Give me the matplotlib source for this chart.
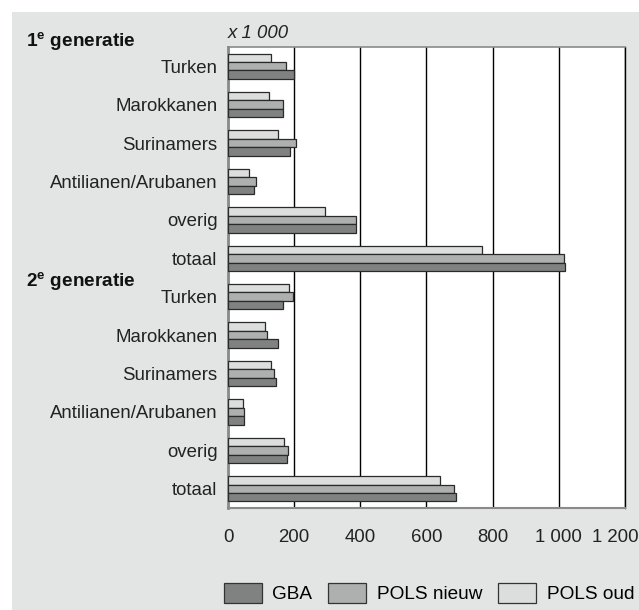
import numpy as np
import matplotlib.pyplot as plt
import matplotlib.transforms as mtransforms
from matplotlib.patches import Rectangle

plt.rcParams['font.family'] = ['Liberation Sans', 'DejaVu Sans']
plt.rcParams['mathtext.fontset'] = 'custom'
plt.rcParams['mathtext.rm'] = 'Liberation Sans'
plt.rcParams['mathtext.bf'] = 'Liberation Sans:bold'

# Gegevens (x 1 000)
groepen = ['Turken', 'Marokkanen', 'Surinamers', 'Antilianen/Arubanen', 'overig', 'totaal',
           'Turken', 'Marokkanen', 'Surinamers', 'Antilianen/Arubanen', 'overig', 'totaal']
gba = [199, 167, 188, 80, 388, 1020, 165, 151, 144, 47, 179, 689]
pols_nieuw = [175, 167, 205, 86, 388, 1016, 196, 119, 139, 47, 182, 684]
pols_oud = [130, 125, 152, 64, 292, 767, 183, 112, 131, 44, 168, 640]
xticks = [0, 200, 400, 600, 800, 1000, 1200]
xlabels = ['0', '200', '400', '600', '800', '1 000', '1 200']

fs = 13.45

fig = plt.figure(figsize=(6.39, 6.10), dpi=100)
fig.patches.append(Rectangle((12 / 639, 0), 1, 1 - 12 / 610, transform=fig.transFigure,
                             facecolor='#e3e4e4', edgecolor='none', zorder=-10))

ax = fig.add_axes([228 / 639, 1 - 508 / 610, (625 - 228) / 639, (508 - 47) / 610])
ax.set_facecolor('white')

y = np.arange(len(groepen))
h = 0.22
kw = dict(height=h, edgecolor='#2a2a2a', linewidth=0.9, zorder=3)
ax.barh(y - h, pols_oud, color='#dcdddd', label='POLS oud', **kw)
ax.barh(y, pols_nieuw, color='#aeafaf', label='POLS nieuw', **kw)
ax.barh(y + h, gba, color='#808181', label='GBA', **kw)

ax.set_ylim(len(groepen) - 0.5, -0.5)
ax.set_xlim(0, 1200)
ax.set_yticks(y)
ax.set_yticklabels(groepen, fontsize=fs, color='#222222')
ax.set_xticks(xticks)
ax.set_xticklabels(xlabels, fontsize=fs, color='#222222')
ax.tick_params(axis='y', length=0, pad=7.5)
ax.tick_params(axis='x', length=0, pad=15)
lbl = ax.get_xticklabels()[-1]
lbl.set_transform(lbl.get_transform() + mtransforms.ScaledTranslation(-0.1, 0, fig.dpi_scale_trans))

ax.set_axisbelow(True)
ax.grid(axis='x', color='black', linewidth=1.0)
ax.grid(axis='y', visible=False)
for side in ['left', 'bottom', 'top']:
    ax.spines[side].set_color('#8a8a8a')
ax.spines['left'].set_linewidth(2)
ax.spines['bottom'].set_linewidth(1.5)
ax.spines['top'].set_linewidth(1.2)
ax.spines['right'].set_color('black')
ax.spines['right'].set_linewidth(1.0)

ax.text(0, 1.030, 'x 1 000', transform=ax.transAxes, fontsize=fs, style='italic',
        color='#222222', va='center', ha='left')

trans = mtransforms.blended_transform_factory(fig.transFigure, ax.transData)
ax.text(26 / 639, -0.63, r'1$^{\mathbf{e}}$ generatie', transform=trans, fontsize=13.7,
        fontweight='bold', va='center', ha='left', color='#111111')
ax.text(26 / 639, 5.6, r'2$^{\mathbf{e}}$ generatie', transform=trans, fontsize=13.7,
        fontweight='bold', va='center', ha='left', color='#111111')

handles, labels = ax.get_legend_handles_labels()
handles = handles[::-1]
labels = labels[::-1]
leg = fig.legend(handles, labels, loc='center', bbox_to_anchor=(429 / 639, 1 - 593 / 610),
                 ncol=3, frameon=False, fontsize=13.7, handlelength=2.0, handleheight=1.25,
                 handletextpad=0.55, columnspacing=0.85)
for p in leg.get_patches():
    p.set_edgecolor('#333333')

fig.savefig('out.png', dpi=100)
